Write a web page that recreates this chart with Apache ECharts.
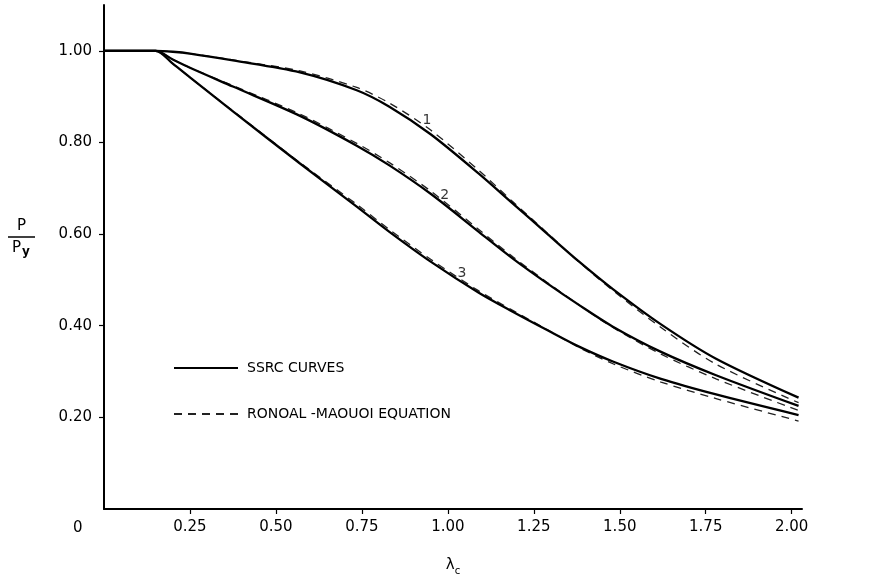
<!DOCTYPE html>
<html>
<head>
<meta charset="utf-8">
<script src="https://cdn.jsdelivr.net/npm/echarts@6/dist/echarts.min.js"></script>
<style>
  html, body { margin: 0; padding: 0; background: #fff; }
  #chart { width: 877px; height: 581px; }
</style>
</head>
<body>
<div id="chart"></div>
<script>
// Non-dimensional slenderness values at which the curves are sampled
const lambdaC = [0, 0.15, 0.2, 0.25, 0.375, 0.57, 0.735, 0.83, 0.95, 1.09, 1.19, 1.29, 1.38, 1.48, 1.62, 1.78, 2.02];

// SSRC column strength curves 1, 2, 3 (P / Py)
const ssrc1 = [1.0, 1.0, 0.998, 0.994, 0.979, 0.953, 0.914, 0.878, 0.818, 0.732, 0.666, 0.600, 0.541, 0.480, 0.403, 0.328, 0.243];
const ssrc2 = [1.0, 1.0, 0.981, 0.963, 0.922, 0.858, 0.793, 0.750, 0.688, 0.605, 0.546, 0.492, 0.446, 0.398, 0.343, 0.292, 0.225];
const ssrc3 = [1.0, 1.0, 0.972, 0.942, 0.868, 0.754, 0.660, 0.605, 0.540, 0.472, 0.430, 0.390, 0.355, 0.322, 0.284, 0.250, 0.205];

// Rondal-Maquoi equation, same three curves
const rm1 = [1.0, 1.0, 0.998, 0.994, 0.980, 0.956, 0.920, 0.886, 0.827, 0.739, 0.670, 0.602, 0.540, 0.477, 0.396, 0.316, 0.232];
const rm2 = [1.0, 1.0, 0.981, 0.963, 0.924, 0.862, 0.798, 0.756, 0.694, 0.610, 0.550, 0.494, 0.446, 0.396, 0.338, 0.284, 0.215];
const rm3 = [1.0, 1.0, 0.972, 0.942, 0.869, 0.756, 0.665, 0.610, 0.545, 0.476, 0.433, 0.391, 0.353, 0.317, 0.277, 0.241, 0.192];

// Axis tick values
const xTicks = [0.25, 0.5, 0.75, 1.0, 1.25, 1.5, 1.75, 2.0];
const yTicks = [0.2, 0.4, 0.6, 0.8, 1.0];

// Curve numbers written beside the lines (lambda, P/Py)
const curveTags = [['1', 0.939, 0.849], ['2', 0.991, 0.685], ['3', 1.041, 0.515]];

const FONT = 'DejaVu Sans';
const INK = '#000';

function pairs(values) {
  return lambdaC.map((x, i) => [x, values[i]]);
}

function solid(values) {
  return {
    name: 'SSRC CURVES',
    type: 'line',
    data: pairs(values),
    symbol: 'none',
    smooth: 0.3,
    itemStyle: { color: INK },
    lineStyle: { color: INK, width: 2.3 },
    z: 3,
    silent: true
  };
}

function dashed(values) {
  return {
    name: 'RONOAL -MAOUOI EQUATION',
    type: 'line',
    data: pairs(values),
    symbol: 'none',
    smooth: 0.3,
    itemStyle: { color: '#222' },
    lineStyle: { color: '#222', width: 1.3, type: [8, 6] },
    z: 2,
    silent: true
  };
}

const chart = echarts.init(document.getElementById('chart'), null, { renderer: 'canvas' });

chart.setOption({
  animation: false,
  backgroundColor: '#fff',
  grid: { left: 104, right: 75, top: 5, bottom: 65 },
  xAxis: {
    type: 'value',
    min: 0,
    max: 2.03,
    name: '{l|λ}{c|c}',
    nameLocation: 'middle',
    nameGap: 45,
    nameTextStyle: {
      rich: {
        l: { fontFamily: FONT, fontSize: 15, color: INK, lineHeight: 22 },
        c: { fontFamily: FONT, fontSize: 10, color: INK, lineHeight: 22, verticalAlign: 'bottom', padding: [10, 0, 0, 0] }
      }
    },
    splitLine: { show: false },
    axisLine: { onZero: false, lineStyle: { color: INK, width: 2 } },
    axisTick: { customValues: xTicks, length: 5, lineStyle: { color: INK, width: 1.2 } },
    axisLabel: {
      customValues: xTicks,
      formatter: v => v.toFixed(2),
      fontFamily: FONT,
      fontSize: 15,
      color: INK,
      margin: 11
    }
  },
  yAxis: {
    type: 'value',
    min: 0,
    max: 1.1,
    splitLine: { show: false },
    axisLine: { onZero: false, lineStyle: { color: INK, width: 2 } },
    axisTick: { customValues: yTicks, length: 5, lineStyle: { color: INK, width: 1.2 } },
    axisLabel: {
      customValues: yTicks,
      formatter: v => v.toFixed(2),
      fontFamily: FONT,
      fontSize: 15,
      color: INK,
      margin: 12
    }
  },
  legend: {
    data: ['SSRC CURVES', 'RONOAL -MAOUOI EQUATION'],
    orient: 'vertical',
    left: 173,
    top: 361,
    padding: 0,
    itemWidth: 64,
    itemHeight: 14,
    itemGap: 32,
    selectedMode: false,
    itemStyle: { opacity: 0 },
    textStyle: { fontFamily: FONT, fontSize: 14, color: INK, padding: [0, 0, 0, 4] }
  },
  graphic: [
    { type: 'text', left: 73, top: 521, style: { text: '0', font: '15px "DejaVu Sans"', fill: INK } },
    { type: 'text', left: 17, top: 219, style: { text: 'P', font: '15px "DejaVu Sans"', fill: INK } },
    { type: 'line', shape: { x1: 8, y1: 237, x2: 35, y2: 237 }, style: { stroke: INK, lineWidth: 1.5 } },
    {
      type: 'text', left: 12, top: 238,
      style: {
        text: '{p|P}{s|y}',
        rich: {
          p: { fontFamily: FONT, fontSize: 15, fill: INK, lineHeight: 20 },
          s: { fontFamily: FONT, fontSize: 12, fontWeight: 'bold', fill: INK, lineHeight: 20, verticalAlign: 'bottom', padding: [8, 0, 0, 1] }
        }
      }
    }
  ],
  series: [
    solid(ssrc1), solid(ssrc2), solid(ssrc3),
    dashed(rm1), dashed(rm2), dashed(rm3),
    {
      type: 'scatter',
      data: curveTags.map(t => ({ value: [t[1], t[2]], tag: t[0] })),
      symbolSize: 0,
      silent: true,
      label: {
        show: true,
        position: 'inside',
        formatter: p => p.data.tag,
        fontFamily: FONT,
        fontSize: 14,
        color: INK
      },
      z: 4
    }
  ]
});
</script>
</body>
</html>
